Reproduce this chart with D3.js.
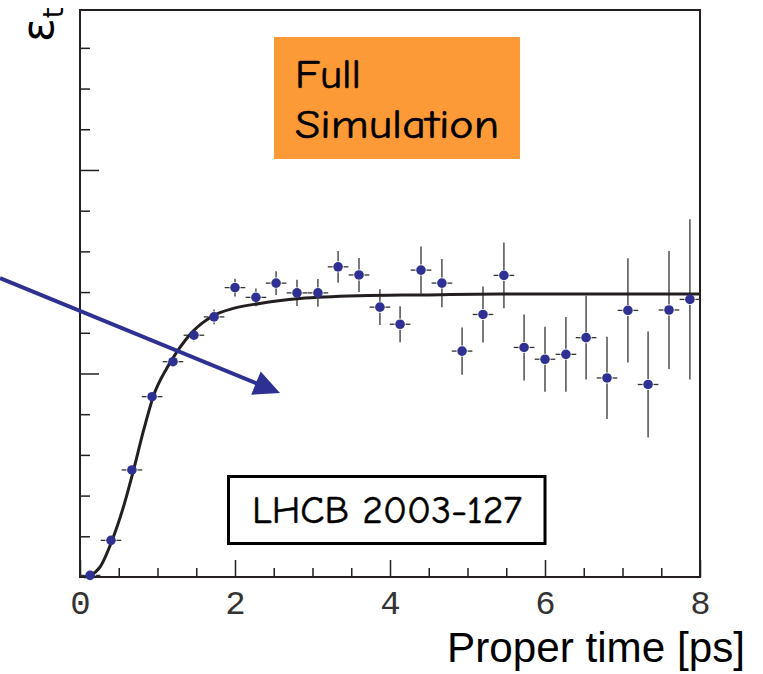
<!DOCTYPE html>
<html>
<head>
<meta charset="utf-8">
<script src="https://cdn.jsdelivr.net/npm/d3@7/dist/d3.min.js"></script>
<style>
  html, body { margin: 0; padding: 0; background: #ffffff; }
  svg { display: block; }
</style>
</head>
<body>
<svg id="chart" width="763" height="674"></svg>
<script>
// ---------------- data ----------------
const times = [0.13, 0.40, 0.67, 0.93, 1.20, 1.47, 1.73, 2.00, 2.27, 2.53,
               2.80, 3.07, 3.33, 3.60, 3.87, 4.13, 4.40, 4.67, 4.93, 5.20,
               5.47, 5.73, 6.00, 6.27, 6.53, 6.80, 7.07, 7.33, 7.60, 7.87];
const efficiency = [0.004, 0.090, 0.263, 0.443, 0.529, 0.594, 0.639, 0.711, 0.687, 0.722,
                    0.698, 0.698, 0.762, 0.742, 0.663, 0.621, 0.754, 0.722, 0.555, 0.645,
                    0.741, 0.564, 0.535, 0.547, 0.588, 0.489, 0.655, 0.473, 0.656, 0.682];
const errors = [0.005, 0.007, 0.007, 0.010, 0.012, 0.015, 0.018, 0.022, 0.022, 0.029,
                0.032, 0.034, 0.039, 0.042, 0.044, 0.044, 0.058, 0.059, 0.058, 0.069,
                0.081, 0.081, 0.080, 0.092, 0.103, 0.101, 0.128, 0.130, 0.145, 0.197];
const binHalfWidth = 0.133;

// fitted acceptance curve
const fitTimes = [0.05, 0.13, 0.26, 0.41, 0.56, 0.69, 0.82, 0.95, 1.12, 1.25,
                  1.46, 1.72, 1.98, 2.32, 2.84, 3.61, 4.39, 5.42, 6.71, 8.00];
const fitValues = [0.000, 0.004, 0.025, 0.088, 0.172, 0.262, 0.360, 0.446, 0.513, 0.553,
                   0.604, 0.642, 0.660, 0.672, 0.684, 0.691, 0.693, 0.695, 0.695, 0.695];

const xMajorTicks = [0, 2, 4, 6, 8];
const xMinorTicks = [0.5, 1, 1.5, 2.5, 3, 3.5, 4.5, 5, 5.5, 6.5, 7, 7.5];
const yMajorTicks = [0.5, 1.0];
const yMinorTicks = [0.1, 0.2, 0.3, 0.4, 0.6, 0.7, 0.8, 0.9, 1.1, 1.2, 1.3];

const xTitle = "Proper time [ps]";
const yTitleMain = "ε";
const yTitleSub = "t";
const simLabel = ["Full", "Simulation"];
const refLabel = "LHCB 2003-127";

// ---------------- drawing ----------------
(function () {
const svg = d3.select("#chart");
const mLeft = 80, mRight = 700, mTop = 10, mBottom = 577;

const x = d3.scaleLinear().domain([0, 8]).range([mLeft, mRight]);
const y = d3.scaleLinear().domain([0, 1.393]).range([mBottom, mTop]);

const ink = "#231f20";
const blue = "#2e3192";
const comic = "'Comic Sans MS', 'Comic Neue', 'DejaVu Sans', sans-serif";

// orange label box
svg.append("rect").attr("x", 274).attr("y", 37).attr("width", 246).attr("height", 122)
  .attr("fill", "#fd9a38");
svg.append("text").attr("x", 295).attr("y", 88)
  .attr("font-family", comic).attr("font-size", 41).attr("fill", "#000")
  .attr("stroke", "#000").attr("stroke-width", 0.6)
  .attr("textLength", 66).attr("lengthAdjust", "spacingAndGlyphs")
  .text(simLabel[0]);
svg.append("text").attr("x", 295).attr("y", 138)
  .attr("font-family", comic).attr("font-size", 41).attr("fill", "#000")
  .attr("stroke", "#000").attr("stroke-width", 0.6)
  .attr("textLength", 204).attr("lengthAdjust", "spacingAndGlyphs")
  .text(simLabel[1]);

// reference box
svg.append("rect").attr("x", 228.5).attr("y", 476.5).attr("width", 316.5).attr("height", 67)
  .attr("fill", "#fff").attr("stroke", "#000").attr("stroke-width", 3);
svg.append("text").attr("x", 252).attr("y", 523)
  .attr("font-family", comic).attr("font-size", 38).attr("fill", "#000")
  .attr("stroke", "#000").attr("stroke-width", 0.5)
  .attr("textLength", 270).attr("lengthAdjust", "spacingAndGlyphs")
  .text(refLabel);

// axes ticks (inward)
const gx = svg.append("g").attr("transform", `translate(0,${mBottom})`);
gx.call(d3.axisTop(x).tickValues(xMinorTicks).tickSize(9).tickFormat(""));
const gx2 = svg.append("g").attr("transform", `translate(0,${mBottom})`);
gx2.call(d3.axisTop(x).tickValues(xMajorTicks).tickSize(17).tickFormat(""));
const gy = svg.append("g").attr("transform", `translate(${mLeft},0)`);
gy.call(d3.axisRight(y).tickValues(yMinorTicks).tickSize(10).tickFormat(""));
const gy2 = svg.append("g").attr("transform", `translate(${mLeft},0)`);
gy2.call(d3.axisRight(y).tickValues(yMajorTicks).tickSize(19).tickFormat(""));
[gx, gx2, gy, gy2].forEach(g => {
  g.select(".domain").remove();
  g.selectAll(".tick line").attr("stroke", ink).attr("stroke-width", 1.5);
});

// x tick labels
const gxl = svg.append("g").attr("transform", `translate(0,${mBottom})`);
gxl.call(d3.axisBottom(x).tickValues(xMajorTicks).tickSize(0).tickPadding(13)
  .tickFormat(d3.format("d")));
gxl.select(".domain").remove();
gxl.selectAll(".tick text")
  .attr("font-family", "'Liberation Mono', 'Courier New', monospace")
  .attr("font-size", 34).attr("fill", "#333");

// frame
svg.append("rect").attr("x", x(0)).attr("y", y(1.393)).attr("width", x(8) - x(0))
  .attr("height", y(0) - y(1.393)).attr("fill", "none").attr("stroke", ink).attr("stroke-width", 2);

// error bars
const gap = 5.5;
const eb = svg.append("g").attr("stroke", "#333").attr("stroke-width", 1.3);
times.forEach((t, i) => {
  const cx = x(t), cy = y(efficiency[i]);
  const hw = x(t + binHalfWidth) - cx;
  eb.append("line").attr("x1", cx - hw).attr("x2", cx - gap).attr("y1", cy).attr("y2", cy);
  eb.append("line").attr("x1", cx + gap).attr("x2", cx + hw).attr("y1", cy).attr("y2", cy);
  const ev = y(efficiency[i] - errors[i]) - cy;
  if (ev > gap) {
    eb.append("line").attr("x1", cx).attr("x2", cx).attr("y1", cy - ev).attr("y2", cy - gap);
    eb.append("line").attr("x1", cx).attr("x2", cx).attr("y1", cy + gap).attr("y2", cy + ev);
  }
});

// fit curve
const line = d3.line().x(d => x(d[0])).y(d => y(d[1])).curve(d3.curveMonotoneX);
svg.append("path").datum(fitTimes.map((t, i) => [t, fitValues[i]]))
  .attr("d", line).attr("fill", "none").attr("stroke", ink).attr("stroke-width", 3);

// points
svg.append("g").selectAll("circle").data(times).join("circle")
  .attr("cx", d => x(d)).attr("cy", (d, i) => y(efficiency[i])).attr("r", 4.8)
  .attr("fill", blue);

// arrow
const ax0 = 0, ay0 = 278, ax1 = 280, ay1 = 393;
const ang = Math.atan2(ay1 - ay0, ax1 - ax0);
const headLen = 26, headHalf = 12.5;
const bx = ax1 - headLen * Math.cos(ang), by = ay1 - headLen * Math.sin(ang);
svg.append("line").attr("x1", ax0).attr("y1", ay0)
  .attr("x2", bx + 2 * Math.cos(ang)).attr("y2", by + 2 * Math.sin(ang))
  .attr("stroke", blue).attr("stroke-width", 4);
svg.append("path")
  .attr("d", `M${ax1},${ay1} L${bx - headHalf * Math.sin(ang)},${by + headHalf * Math.cos(ang)} L${bx + headHalf * Math.sin(ang)},${by - headHalf * Math.cos(ang)} Z`)
  .attr("fill", blue);

// titles
svg.append("text").attr("x", 745).attr("y", 662).attr("text-anchor", "end")
  .attr("font-family", "'Liberation Sans', Arial, Helvetica, sans-serif")
  .attr("font-size", 42).attr("fill", "#000")
  .attr("textLength", 298).attr("lengthAdjust", "spacingAndGlyphs")
  .text(xTitle);

const yt = svg.append("text").attr("transform", "translate(53,42) rotate(-90)")
  .attr("font-family", "'DejaVu Sans', sans-serif").attr("fill", "#000");
yt.append("tspan").attr("font-size", 44).text(yTitleMain);
yt.append("tspan").attr("font-size", 28).attr("dy", 10).text(yTitleSub);
})();
</script>
</body>
</html>
